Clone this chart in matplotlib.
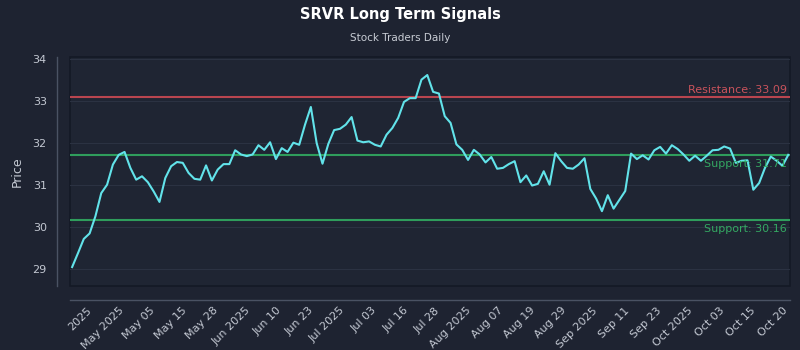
import numpy as np
import matplotlib
matplotlib.use('Agg')
import matplotlib.pyplot as plt
import matplotlib.transforms as mtransforms

# closing prices (one per session)
prices = [29.05, 29.38, 29.72, 29.85, 30.26, 30.81, 31.01, 31.49, 31.72, 31.79,
          31.41, 31.13, 31.21, 31.07, 30.85, 30.60, 31.17, 31.45, 31.55, 31.53,
          31.29, 31.15, 31.13, 31.47, 31.11, 31.37, 31.50, 31.50, 31.83, 31.73,
          31.69, 31.73, 31.95, 31.84, 32.02, 31.62, 31.88, 31.79, 32.01, 31.96,
          32.44, 32.86, 32.00, 31.51, 31.98, 32.31, 32.34, 32.44, 32.62, 32.06,
          32.02, 32.04, 31.96, 31.92, 32.20, 32.36, 32.60, 32.98, 33.07, 33.07,
          33.51, 33.62, 33.22, 33.18, 32.64, 32.48, 31.97, 31.84, 31.60, 31.84,
          31.73, 31.54, 31.67, 31.39, 31.41, 31.50, 31.57, 31.07, 31.23, 30.99,
          31.03, 31.33, 31.01, 31.76, 31.57, 31.41, 31.39, 31.49, 31.64, 30.91,
          30.68, 30.38, 30.76, 30.44, 30.65, 30.86, 31.75, 31.62, 31.71, 31.61,
          31.83, 31.91, 31.75, 31.95, 31.86, 31.73, 31.58, 31.70, 31.58, 31.70,
          31.83, 31.84, 31.92, 31.87, 31.53, 31.58, 31.59, 30.89, 31.05, 31.41,
          31.68, 31.58, 31.46, 31.72]

resistance = 33.09
supports = [31.71, 30.16]

tick_labels = ['2025', 'May 2025', 'May 05', 'May 15', 'May 28', 'Jun 2025',
               'Jun 10', 'Jun 23', 'Jul 2025', 'Jul 03', 'Jul 16', 'Jul 28',
               'Aug 2025', 'Aug 07', 'Aug 19', 'Aug 29', 'Sep 2025', 'Sep 11',
               'Sep 23', 'Oct 2025', 'Oct 03', 'Oct 15', 'Oct 20']

bg = '#1e2331'
axbg = '#1f2533'
txt = '#c3c8d2'

fig = plt.figure(figsize=(8, 3.5), dpi=100, facecolor=bg)
ax = fig.add_axes([0.088, 0.183, 0.8995, 0.653])
ax.set_facecolor(axbg)

# offset spines first (moving a spine resets the tick labels)
ax.spines['top'].set_visible(False)
ax.spines['right'].set_visible(False)
for side in ['left', 'bottom']:
    ax.spines[side].set_position(('outward', 10))
    ax.spines[side].set_color('#4a5263')
    ax.spines[side].set_linewidth(1)

x = np.arange(len(prices))
ax.plot(x, prices, color='#62e3ea', lw=1.5, zorder=3)

ax.axhline(resistance, color='#b9454f', lw=1.5, zorder=2)
for s in supports:
    ax.axhline(s, color='#2f9d5c', lw=1.5, zorder=2)

# labels at the right end of the level lines
trans = mtransforms.blended_transform_factory(ax.transAxes, ax.transData)
ax.text(0.996, resistance + 0.06, 'Resistance: %.2f' % resistance, transform=trans,
        ha='right', va='bottom', color='#c9535c', fontsize=8)
for s in supports:
    ax.text(0.996, s - 0.08, 'Support: %.2f' % s, transform=trans,
            ha='right', va='top', color='#34a862', fontsize=8)

ax.set_xlim(-0.3, len(prices) - 0.7)
ax.set_ylim(28.6, 34.04)
ax.set_yticks([29, 30, 31, 32, 33, 34])

ax.tick_params(axis='both', colors=txt, labelsize=8, length=0)
ax.tick_params(axis='y', pad=7)
ax.tick_params(axis='x', pad=4, labelrotation=45)

ax.set_xticks(np.linspace(2.5, len(prices) - 2.0, len(tick_labels)))
ax.set_xticklabels(tick_labels)
for lab in ax.get_xticklabels():
    lab.set_ha('right')
    lab.set_rotation_mode('anchor')

ax.grid(axis='y', color='#2b3242', lw=0.8)
ax.set_axisbelow(True)

# dark frame around the plot area
ax.patch.set_edgecolor('#141925')
ax.patch.set_linewidth(1.2)

ax.set_ylabel('Price', color=txt, fontsize=9, labelpad=6)

fig.text(0.5, 1 - 15 / 350, 'SRVR Long Term Signals', ha='center', va='center',
         color='white', fontsize=10.5, fontweight='bold')
fig.text(0.5, 1 - 38 / 350, 'Stock Traders Daily', ha='center', va='center',
         color='#c8ccd4', fontsize=7.5)

fig.savefig('out.png', dpi=100, facecolor=bg)
